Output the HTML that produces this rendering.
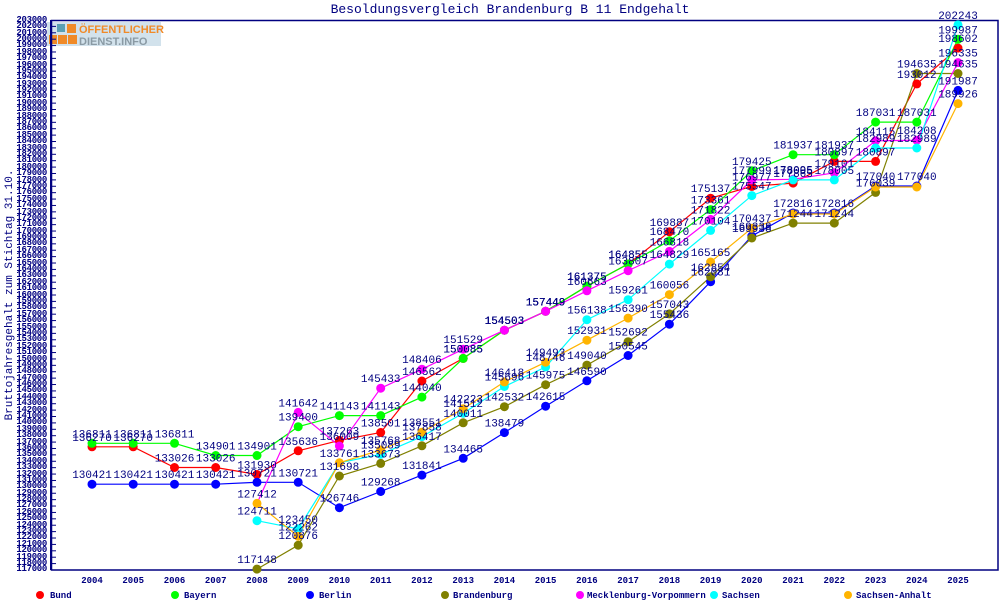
<!DOCTYPE html>
<html><head><meta charset="utf-8"><style>
body{margin:0;width:1000px;height:600px;background:#fff;overflow:hidden;position:relative;font-family:"Liberation Mono","DejaVu Sans Mono",monospace}
#yl{position:absolute;left:0;top:16.8px;width:47px;text-align:right;color:#000080;font-size:9px;font-weight:bold;line-height:6.3953px;letter-spacing:-0.3px}
#yl div{height:6.3953px}
svg{position:absolute;left:0;top:0}
</style></head><body>
<svg width="1000" height="600" xmlns="http://www.w3.org/2000/svg" font-family="Liberation Mono, DejaVu Sans Mono, monospace">
<text x="510" y="13" text-anchor="middle" fill="#000080" font-size="13">Besoldungsvergleich Brandenburg B 11 Endgehalt</text>
<text transform="translate(12,295) rotate(-90)" text-anchor="middle" fill="#000080" font-size="11">Bruttojahresgehalt zum Stichtag 31.10.</text>
<rect x="47" y="22" width="114" height="24" fill="#d2e2ec"/>
<rect x="57" y="24" width="8" height="8" fill="#5aa0b4"/>
<rect x="67" y="24" width="9" height="9" fill="#f08a28"/>
<rect x="49" y="35" width="8" height="9" fill="#f08a28"/>
<rect x="58" y="35" width="9" height="9" fill="#f08a28"/>
<rect x="68" y="35" width="9" height="9" fill="#f08a28"/>
<text x="79" y="33" fill="#f08a28" font-size="11" font-weight="bold" font-family="Liberation Sans, sans-serif">ÖFFENTLICHER</text>
<text x="79" y="45" fill="#8a9aa4" font-size="11" font-weight="bold" font-family="Liberation Sans, sans-serif">DIENST.INFO</text>
<rect x="51.5" y="20.5" width="946.5" height="549.5" fill="none" stroke="#000080" stroke-width="1.5"/>
<g fill="#000080" font-size="9" font-weight="bold" text-anchor="middle">
<text x="92" y="583">2004</text><text x="133.2" y="583">2005</text><text x="174.5" y="583">2006</text><text x="215.7" y="583">2007</text><text x="257" y="583">2008</text><text x="298.2" y="583">2009</text><text x="339.4" y="583">2010</text><text x="380.7" y="583">2011</text><text x="421.9" y="583">2012</text><text x="463.2" y="583">2013</text><text x="504.4" y="583">2014</text><text x="545.6" y="583">2015</text><text x="586.9" y="583">2016</text><text x="628.1" y="583">2017</text><text x="669.4" y="583">2018</text><text x="710.6" y="583">2019</text><text x="751.8" y="583">2020</text><text x="793.1" y="583">2021</text><text x="834.3" y="583">2022</text><text x="875.6" y="583">2023</text><text x="916.8" y="583">2024</text><text x="958" y="583">2025</text>
</g>
<g font-size="9" fill="#000080" font-weight="bold">
<circle cx="40" cy="595" r="4" fill="#f00"/><text x="50" y="598">Bund</text>
<circle cx="175" cy="595" r="4" fill="#0f0"/><text x="184" y="598">Bayern</text>
<circle cx="310" cy="595" r="4" fill="#00f"/><text x="319" y="598">Berlin</text>
<circle cx="445" cy="595" r="4" fill="#808000"/><text x="453" y="598">Brandenburg</text>
<circle cx="580" cy="595" r="4" fill="#f0f"/><text x="587" y="598">Mecklenburg-Vorpommern</text>
<circle cx="714" cy="595" r="4" fill="#0ff"/><text x="722" y="598">Sachsen</text>
<circle cx="848" cy="595" r="4" fill="#ffb400"/><text x="856" y="598">Sachsen-Anhalt</text>
</g>
<g fill="none" stroke-width="1.2">
<polyline stroke="#f00" points="92,446.8 133.2,446.8 174.5,467.5 215.7,467.5 257,474.5 298.2,450.8 339.4,440.4 380.7,432.5 421.9,381 463.2,358.4 504.4,330.2 545.6,311.3 586.9,286.2 628.1,264 669.4,231.8 710.6,198.2 751.8,186.4 793.1,183.1 834.3,161.4 875.6,161.4 916.8,83.9 958,48.1"/>
<polyline stroke="#0f0" points="92,443.3 133.2,443.3 174.5,443.3 215.7,455.5 257,455.5 298.2,426.7 339.4,415.6 380.7,415.6 421.9,397.1 463.2,358.4 504.4,330.2 545.6,311.3 586.9,286.2 628.1,264 669.4,240.8 710.6,209.6 751.8,170.8 793.1,154.7 834.3,154.7 875.6,122.1 916.8,122.1 958,39.3"/>
<polyline stroke="#00f" points="92,484.2 133.2,484.2 174.5,484.2 215.7,484.2 257,482.3 298.2,482.3 339.4,507.7 380.7,491.5 421.9,475.1 463.2,458.3 504.4,432.6 545.6,406.2 586.9,380.8 628.1,355.5 669.4,324.2 710.6,281.7 751.8,236 793.1,213 834.3,213 875.6,186 916.8,186 958,90.4"/>
<polyline stroke="#808000" points="257,569.1 298.2,545.2 339.4,476 380.7,463.4 421.9,445.8 463.2,422.8 504.4,406.7 545.6,384.7 586.9,365.1 628.1,341.7 669.4,313.9 710.6,276.8 751.8,238 793.1,223.1 834.3,223.1 875.6,192.4 916.8,73.5 958,73.5"/>
<polyline stroke="#f0f" points="257,503.4 298.2,412.4 339.4,446 380.7,388.2 421.9,369.2 463.2,349.2 504.4,330.2 545.6,311.3 586.9,290.8 628.1,270.7 669.4,251.4 710.6,219.4 751.8,179.9 793.1,179.3 834.3,172.8 875.6,140.8 916.8,140.2 958,62.6"/>
<polyline stroke="#0ff" points="257,520.7 298.2,528.8 339.4,462.8 380.7,454.3 421.9,436.6 463.2,413.2 504.4,386.5 545.6,367 586.9,319.7 628.1,299.7 669.4,264.1 710.6,230.4 751.8,195.6 793.1,179.9 834.3,179.9 875.6,148 916.8,148 958,24.9"/>
<polyline stroke="#ffb400" points="257,503.4 298.2,536.3 339.4,462.8 380.7,450 421.9,432.2 463.2,408.7 504.4,381.9 545.6,362.2 586.9,340.2 628.1,318.1 669.4,294.6 710.6,262 751.8,228.2 793.1,214 834.3,214 875.6,187 916.8,187 958,103.6"/>
</g>
<g fill="#f00"><circle cx="92" cy="446.8" r="4.5"/><circle cx="133.2" cy="446.8" r="4.5"/><circle cx="174.5" cy="467.5" r="4.5"/><circle cx="215.7" cy="467.5" r="4.5"/><circle cx="257" cy="474.5" r="4.5"/><circle cx="298.2" cy="450.8" r="4.5"/><circle cx="339.4" cy="440.4" r="4.5"/><circle cx="380.7" cy="432.5" r="4.5"/><circle cx="421.9" cy="381" r="4.5"/><circle cx="463.2" cy="358.4" r="4.5"/><circle cx="504.4" cy="330.2" r="4.5"/><circle cx="545.6" cy="311.3" r="4.5"/><circle cx="586.9" cy="286.2" r="4.5"/><circle cx="628.1" cy="264" r="4.5"/><circle cx="669.4" cy="231.8" r="4.5"/><circle cx="710.6" cy="198.2" r="4.5"/><circle cx="751.8" cy="186.4" r="4.5"/><circle cx="793.1" cy="183.1" r="4.5"/><circle cx="834.3" cy="161.4" r="4.5"/><circle cx="875.6" cy="161.4" r="4.5"/><circle cx="916.8" cy="83.9" r="4.5"/><circle cx="958" cy="48.1" r="4.5"/></g>
<g fill="#0f0"><circle cx="92" cy="443.3" r="4.5"/><circle cx="133.2" cy="443.3" r="4.5"/><circle cx="174.5" cy="443.3" r="4.5"/><circle cx="215.7" cy="455.5" r="4.5"/><circle cx="257" cy="455.5" r="4.5"/><circle cx="298.2" cy="426.7" r="4.5"/><circle cx="339.4" cy="415.6" r="4.5"/><circle cx="380.7" cy="415.6" r="4.5"/><circle cx="421.9" cy="397.1" r="4.5"/><circle cx="463.2" cy="358.4" r="4.5"/><circle cx="504.4" cy="330.2" r="4.5"/><circle cx="545.6" cy="311.3" r="4.5"/><circle cx="586.9" cy="286.2" r="4.5"/><circle cx="628.1" cy="264" r="4.5"/><circle cx="669.4" cy="240.8" r="4.5"/><circle cx="710.6" cy="209.6" r="4.5"/><circle cx="751.8" cy="170.8" r="4.5"/><circle cx="793.1" cy="154.7" r="4.5"/><circle cx="834.3" cy="154.7" r="4.5"/><circle cx="875.6" cy="122.1" r="4.5"/><circle cx="916.8" cy="122.1" r="4.5"/><circle cx="958" cy="39.3" r="4.5"/></g>
<g fill="#00f"><circle cx="92" cy="484.2" r="4.5"/><circle cx="133.2" cy="484.2" r="4.5"/><circle cx="174.5" cy="484.2" r="4.5"/><circle cx="215.7" cy="484.2" r="4.5"/><circle cx="257" cy="482.3" r="4.5"/><circle cx="298.2" cy="482.3" r="4.5"/><circle cx="339.4" cy="507.7" r="4.5"/><circle cx="380.7" cy="491.5" r="4.5"/><circle cx="421.9" cy="475.1" r="4.5"/><circle cx="463.2" cy="458.3" r="4.5"/><circle cx="504.4" cy="432.6" r="4.5"/><circle cx="545.6" cy="406.2" r="4.5"/><circle cx="586.9" cy="380.8" r="4.5"/><circle cx="628.1" cy="355.5" r="4.5"/><circle cx="669.4" cy="324.2" r="4.5"/><circle cx="710.6" cy="281.7" r="4.5"/><circle cx="751.8" cy="236" r="4.5"/><circle cx="793.1" cy="213" r="4.5"/><circle cx="834.3" cy="213" r="4.5"/><circle cx="875.6" cy="186" r="4.5"/><circle cx="916.8" cy="186" r="4.5"/><circle cx="958" cy="90.4" r="4.5"/></g>
<g fill="#808000"><circle cx="257" cy="569.1" r="4.5"/><circle cx="298.2" cy="545.2" r="4.5"/><circle cx="339.4" cy="476" r="4.5"/><circle cx="380.7" cy="463.4" r="4.5"/><circle cx="421.9" cy="445.8" r="4.5"/><circle cx="463.2" cy="422.8" r="4.5"/><circle cx="504.4" cy="406.7" r="4.5"/><circle cx="545.6" cy="384.7" r="4.5"/><circle cx="586.9" cy="365.1" r="4.5"/><circle cx="628.1" cy="341.7" r="4.5"/><circle cx="669.4" cy="313.9" r="4.5"/><circle cx="710.6" cy="276.8" r="4.5"/><circle cx="751.8" cy="238" r="4.5"/><circle cx="793.1" cy="223.1" r="4.5"/><circle cx="834.3" cy="223.1" r="4.5"/><circle cx="875.6" cy="192.4" r="4.5"/><circle cx="916.8" cy="73.5" r="4.5"/><circle cx="958" cy="73.5" r="4.5"/></g>
<g fill="#f0f"><circle cx="298.2" cy="412.4" r="4.5"/><circle cx="339.4" cy="446" r="4.5"/><circle cx="380.7" cy="388.2" r="4.5"/><circle cx="421.9" cy="369.2" r="4.5"/><circle cx="463.2" cy="349.2" r="4.5"/><circle cx="504.4" cy="330.2" r="4.5"/><circle cx="545.6" cy="311.3" r="4.5"/><circle cx="586.9" cy="290.8" r="4.5"/><circle cx="628.1" cy="270.7" r="4.5"/><circle cx="669.4" cy="251.4" r="4.5"/><circle cx="710.6" cy="219.4" r="4.5"/><circle cx="751.8" cy="179.9" r="4.5"/><circle cx="793.1" cy="179.3" r="4.5"/><circle cx="834.3" cy="172.8" r="4.5"/><circle cx="875.6" cy="140.8" r="4.5"/><circle cx="916.8" cy="140.2" r="4.5"/><circle cx="958" cy="62.6" r="4.5"/></g>
<g fill="#0ff"><circle cx="257" cy="520.7" r="4.5"/><circle cx="298.2" cy="528.8" r="4.5"/><circle cx="380.7" cy="454.3" r="4.5"/><circle cx="421.9" cy="436.6" r="4.5"/><circle cx="463.2" cy="413.2" r="4.5"/><circle cx="504.4" cy="386.5" r="4.5"/><circle cx="545.6" cy="367" r="4.5"/><circle cx="586.9" cy="319.7" r="4.5"/><circle cx="628.1" cy="299.7" r="4.5"/><circle cx="669.4" cy="264.1" r="4.5"/><circle cx="710.6" cy="230.4" r="4.5"/><circle cx="751.8" cy="195.6" r="4.5"/><circle cx="793.1" cy="179.9" r="4.5"/><circle cx="834.3" cy="179.9" r="4.5"/><circle cx="875.6" cy="148" r="4.5"/><circle cx="916.8" cy="148" r="4.5"/><circle cx="958" cy="24.9" r="4.5"/></g>
<g fill="#ffb400"><circle cx="257" cy="503.4" r="4.5"/><circle cx="298.2" cy="536.3" r="4.5"/><circle cx="339.4" cy="462.8" r="4.5"/><circle cx="380.7" cy="450" r="4.5"/><circle cx="421.9" cy="432.2" r="4.5"/><circle cx="463.2" cy="408.7" r="4.5"/><circle cx="504.4" cy="381.9" r="4.5"/><circle cx="545.6" cy="362.2" r="4.5"/><circle cx="586.9" cy="340.2" r="4.5"/><circle cx="628.1" cy="318.1" r="4.5"/><circle cx="669.4" cy="294.6" r="4.5"/><circle cx="710.6" cy="262" r="4.5"/><circle cx="751.8" cy="228.2" r="4.5"/><circle cx="793.1" cy="214" r="4.5"/><circle cx="834.3" cy="214" r="4.5"/><circle cx="875.6" cy="187" r="4.5"/><circle cx="916.8" cy="187" r="4.5"/><circle cx="958" cy="103.6" r="4.5"/></g>
<g fill="#000080" font-size="11" text-anchor="middle">
<text x="92" y="440.8">136270</text><text x="133.2" y="440.8">136270</text><text x="174.5" y="461.5">133026</text><text x="215.7" y="461.5">133026</text><text x="257" y="468.5">131930</text><text x="298.2" y="444.8">135636</text><text x="339.4" y="434.4">137263</text><text x="380.7" y="426.5">138501</text><text x="421.9" y="375">146562</text><text x="463.2" y="352.4">150085</text><text x="504.4" y="324.2">154503</text><text x="545.6" y="305.3">157449</text><text x="586.9" y="280.2">161375</text><text x="628.1" y="258">164855</text><text x="669.4" y="225.8">169887</text><text x="710.6" y="192.2">175137</text><text x="751.8" y="180.4">176977</text><text x="793.1" y="177.1">177865</text><text x="834.3" y="155.4">180897</text><text x="875.6" y="155.4">180897</text><text x="916.8" y="77.9">193012</text><text x="958" y="42.1">198602</text>
<text x="92" y="437.3">136811</text><text x="133.2" y="437.3">136811</text><text x="174.5" y="437.3">136811</text><text x="215.7" y="449.5">134901</text><text x="257" y="449.5">134901</text><text x="298.2" y="420.7">139400</text><text x="339.4" y="409.6">141143</text><text x="380.7" y="409.6">141143</text><text x="421.9" y="391.1">144040</text><text x="463.2" y="352.4">150085</text><text x="504.4" y="324.2">154503</text><text x="545.6" y="305.3">157449</text><text x="586.9" y="280.2">161375</text><text x="628.1" y="258">164855</text><text x="669.4" y="234.8">168470</text><text x="710.6" y="203.6">173361</text><text x="751.8" y="164.8">179425</text><text x="793.1" y="148.7">181937</text><text x="834.3" y="148.7">181937</text><text x="875.6" y="116.1">187031</text><text x="916.8" y="116.1">187031</text><text x="958" y="33.3">199987</text>
<text x="92" y="478.2">130421</text><text x="133.2" y="478.2">130421</text><text x="174.5" y="478.2">130421</text><text x="215.7" y="478.2">130421</text><text x="257" y="476.3">130721</text><text x="298.2" y="476.3">130721</text><text x="339.4" y="501.7">126746</text><text x="380.7" y="485.5">129268</text><text x="421.9" y="469.1">131841</text><text x="463.2" y="452.3">134465</text><text x="504.4" y="426.6">138479</text><text x="545.6" y="400.2">142615</text><text x="586.9" y="374.8">146590</text><text x="628.1" y="349.5">150545</text><text x="669.4" y="318.2">155436</text><text x="710.6" y="275.7">162081</text><text x="751.8" y="230">169338</text><text x="793.1" y="207">172816</text><text x="834.3" y="207">172816</text><text x="875.6" y="180">177040</text><text x="916.8" y="180">177040</text><text x="958" y="84.4">191987</text>
<text x="257" y="563.1">117148</text><text x="298.2" y="539.2">120876</text><text x="339.4" y="470">131698</text><text x="380.7" y="457.4">133673</text><text x="421.9" y="439.8">136417</text><text x="463.2" y="416.8">140011</text><text x="504.4" y="400.7">142532</text><text x="545.6" y="378.7">145975</text><text x="586.9" y="359.1">149040</text><text x="628.1" y="335.7">152692</text><text x="669.4" y="307.9">157043</text><text x="710.6" y="270.8">162854</text><text x="751.8" y="232">169938</text><text x="793.1" y="217.1">171244</text><text x="834.3" y="217.1">171244</text><text x="875.6" y="186.4">176039</text><text x="916.8" y="67.5">194635</text><text x="958" y="67.5">194635</text>
<text x="298.2" y="406.4">141642</text><text x="339.4" y="440">136009</text><text x="380.7" y="382.2">145433</text><text x="421.9" y="363.2">148406</text><text x="463.2" y="343.2">151529</text><text x="504.4" y="324.2">154503</text><text x="545.6" y="305.3">157449</text><text x="586.9" y="284.8">160663</text><text x="628.1" y="264.7">163807</text><text x="669.4" y="245.4">166818</text><text x="710.6" y="213.4">171822</text><text x="751.8" y="173.9">177999</text><text x="793.1" y="173.3">178095</text><text x="834.3" y="166.8">179101</text><text x="875.6" y="134.8">184115</text><text x="916.8" y="134.2">184208</text><text x="958" y="56.6">196335</text>
<text x="257" y="514.7">124711</text><text x="298.2" y="522.8">123450</text><text x="380.7" y="448.3">135089</text><text x="421.9" y="430.6">137858</text><text x="463.2" y="407.2">141512</text><text x="504.4" y="380.5">145696</text><text x="545.6" y="361">148746</text><text x="586.9" y="313.7">156138</text><text x="628.1" y="293.7">159261</text><text x="669.4" y="258.1">164829</text><text x="710.6" y="224.4">170104</text><text x="751.8" y="189.6">175547</text><text x="793.1" y="173.9">178005</text><text x="834.3" y="173.9">178005</text><text x="875.6" y="142">182989</text><text x="916.8" y="142">182989</text><text x="958" y="18.9">202243</text>
<text x="257" y="497.4">127412</text><text x="298.2" y="530.3">122262</text><text x="339.4" y="456.8">133761</text><text x="380.7" y="444">135768</text><text x="421.9" y="426.2">138551</text><text x="463.2" y="402.7">142223</text><text x="504.4" y="375.9">146418</text><text x="545.6" y="356.2">149493</text><text x="586.9" y="334.2">152931</text><text x="628.1" y="312.1">156390</text><text x="669.4" y="288.6">160056</text><text x="710.6" y="256">165165</text><text x="751.8" y="222.2">170437</text><text x="958" y="97.6">189926</text>
</g>
<g stroke="#000080" stroke-width="1">
<line x1="51" y1="20" x2="51" y2="570" stroke-width="2"/>
</g>
<rect x="52" y="20" width="4" height="550" fill="url(#tk)"/>
<defs><pattern id="tk" x="0" y="19.5" width="4" height="6.3953" patternUnits="userSpaceOnUse"><rect x="0" y="0" width="4" height="1" fill="#000080"/></pattern></defs>
</svg>
<div id="yl"><div>203000</div><div>202000</div><div>201000</div><div>200000</div><div>199000</div><div>198000</div><div>197000</div><div>196000</div><div>195000</div><div>194000</div><div>193000</div><div>192000</div><div>191000</div><div>190000</div><div>189000</div><div>188000</div><div>187000</div><div>186000</div><div>185000</div><div>184000</div><div>183000</div><div>182000</div><div>181000</div><div>180000</div><div>179000</div><div>178000</div><div>177000</div><div>176000</div><div>175000</div><div>174000</div><div>173000</div><div>172000</div><div>171000</div><div>170000</div><div>169000</div><div>168000</div><div>167000</div><div>166000</div><div>165000</div><div>164000</div><div>163000</div><div>162000</div><div>161000</div><div>160000</div><div>159000</div><div>158000</div><div>157000</div><div>156000</div><div>155000</div><div>154000</div><div>153000</div><div>152000</div><div>151000</div><div>150000</div><div>149000</div><div>148000</div><div>147000</div><div>146000</div><div>145000</div><div>144000</div><div>143000</div><div>142000</div><div>141000</div><div>140000</div><div>139000</div><div>138000</div><div>137000</div><div>136000</div><div>135000</div><div>134000</div><div>133000</div><div>132000</div><div>131000</div><div>130000</div><div>129000</div><div>128000</div><div>127000</div><div>126000</div><div>125000</div><div>124000</div><div>123000</div><div>122000</div><div>121000</div><div>120000</div><div>119000</div><div>118000</div><div>117000</div></div>
</body></html>
